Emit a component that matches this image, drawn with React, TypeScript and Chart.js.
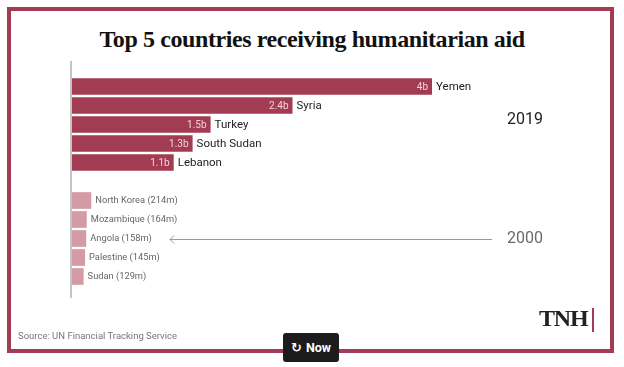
import React, { useEffect, useRef } from "react";
import { Chart, registerables } from "chart.js";
Chart.register(...registerables);

const countries2019 = ["Yemen", "Syria", "Turkey", "South Sudan", "Lebanon"];
const aid2019 = [4.0, 2.45, 1.54, 1.34, 1.13];
const labels2019 = ["4b", "2.4b", "1.5b", "1.3b", "1.1b"];
const countries2000 = ["North Korea", "Mozambique", "Angola", "Palestine", "Sudan"];
const aid2000 = [0.214, 0.164, 0.158, 0.145, 0.129];
const labels2000 = ["214m", "164m", "158m", "145m", "129m"];
const yearLabels = ["2019", "2000"];

const RED = "#a23c52";
const PINK = "#d49ba7";

const categories = [...countries2019, "", ...countries2000];
const values = [...aid2019, null, ...aid2000];
const colors = [...aid2019.map(() => RED), "rgba(0,0,0,0)", ...aid2000.map(() => PINK)];

const labelPlugin = {
  id: "labelPlugin",
  afterDatasetsDraw(chart: any) {
    const ctx = chart.ctx;
    const meta = chart.getDatasetMeta(0);
    const area = chart.chartArea;
    ctx.save();
    // axis line
    ctx.strokeStyle = "#c4c4c4";
    ctx.lineWidth = 2;
    ctx.beginPath();
    ctx.moveTo(area.left - 1, area.top - 16);
    ctx.lineTo(area.left - 1, area.bottom + 12);
    ctx.stroke();

    ctx.textBaseline = "middle";
    const n = countries2019.length;
    meta.data.forEach((el: any, i: number) => {
      if (i < n) {
        ctx.font = "10px Roboto";
        ctx.fillStyle = "#f3d3da";
        ctx.textAlign = "right";
        ctx.fillText(labels2019[i], el.x - 4, el.y + 0.5);
        ctx.font = "11.5px Roboto";
        ctx.fillStyle = "#222";
        ctx.textAlign = "left";
        ctx.fillText(countries2019[i], el.x + 4, el.y + 0.5);
      } else if (i > n) {
        const j = i - n - 1;
        ctx.font = "9.3px Roboto";
        ctx.fillStyle = "#666";
        ctx.textAlign = "left";
        ctx.fillText(`${countries2000[j]} (${labels2000[j]})`, el.x + 4, el.y + 0.5);
      }
    });

    // year annotations
    const yTurkey = meta.data[2].y;
    const yAngola = meta.data[n + 3].y;
    const cx = area.right - 87;
    ctx.font = "16px Roboto";
    ctx.textAlign = "center";
    ctx.fillStyle = "#222";
    ctx.fillText(yearLabels[0], cx, yTurkey - 5);
    ctx.fillStyle = "#6a6a6a";
    ctx.fillText(yearLabels[1], cx, yAngola);

    // arrow
    const x1 = area.left + 98;
    const x2 = area.right - 120;
    const ya = Math.round(yAngola) + 0.5;
    ctx.strokeStyle = "#9a9a9a";
    ctx.lineWidth = 1;
    ctx.beginPath();
    ctx.moveTo(x2, ya);
    ctx.lineTo(x1, ya);
    ctx.moveTo(x1 + 4, ya - 4);
    ctx.lineTo(x1, ya);
    ctx.lineTo(x1 + 4, ya + 4);
    ctx.stroke();
    ctx.restore();
  },
};

export default function App() {
  const ref = useRef<HTMLCanvasElement>(null);
  useEffect(() => {
    if (!ref.current) return;
    const chart = new Chart(ref.current, {
      type: "bar",
      data: {
        labels: categories,
        datasets: [
          {
            data: values as any,
            backgroundColor: colors,
            borderWidth: 0,
            categoryPercentage: 1,
            barPercentage: 0.88,
          },
        ],
      },
      options: {
        indexAxis: "y",
        animation: false,
        responsive: false,
        layout: { padding: { left: 72, top: 77, right: 12, bottom: 81 } },
        plugins: { legend: { display: false }, tooltip: { enabled: false }, title: { display: false } },
        scales: {
          x: { display: false, min: 0, max: 6 },
          y: { display: false },
        },
      },
      plugins: [labelPlugin],
    });
    return () => chart.destroy();
  }, []);

  return (
    <div style={{ position: "absolute", left: 0, top: 0, width: 624, height: 367, background: "#fff", fontFamily: "Roboto" }}>
      <div
        style={{
          position: "absolute",
          left: 7,
          top: 7,
          width: 607,
          height: 346,
          border: `4px solid ${RED}`,
          boxSizing: "border-box",
        }}
      />
      <div
        style={{
          position: "absolute",
          left: 0,
          width: 624,
          top: 24,
          textAlign: "center",
          fontFamily: "'Liberation Serif'",
          fontWeight: 700,
          fontSize: 24,
          letterSpacing: -0.4,
          color: "#111",
          lineHeight: "30px",
        }}
      >
        Top 5 countries receiving humanitarian aid
      </div>
      <canvas ref={ref} width={624} height={367} style={{ position: "absolute", left: 0, top: 0 }} />
      <div style={{ position: "absolute", left: 18, top: 330, fontSize: 9.5, color: "#777", lineHeight: "12px" }}>
        Source: UN Financial Tracking Service
      </div>
      <div
        style={{
          position: "absolute",
          left: 539,
          top: 304,
          fontFamily: "'Liberation Serif'",
          fontWeight: 700,
          fontSize: 24,
          color: "#222",
          lineHeight: "28px",
          letterSpacing: -1.2,
        }}
      >
        TNH
      </div>
      <div style={{ position: "absolute", left: 592, top: 308, width: 2, height: 24, background: RED }} />
      <div
        style={{
          position: "absolute",
          left: 283,
          top: 333,
          width: 56,
          height: 29,
          background: "#1c1c1c",
          borderRadius: 3,
          color: "#fff",
          fontWeight: 700,
          fontSize: 12.5,
          display: "flex",
          alignItems: "center",
          justifyContent: "center",
          gap: 4,
        }}
      >
        <span style={{ fontFamily: "'DejaVu Sans'", fontSize: 13 }}>↻</span>
        <span>Now</span>
      </div>
    </div>
  );
}
